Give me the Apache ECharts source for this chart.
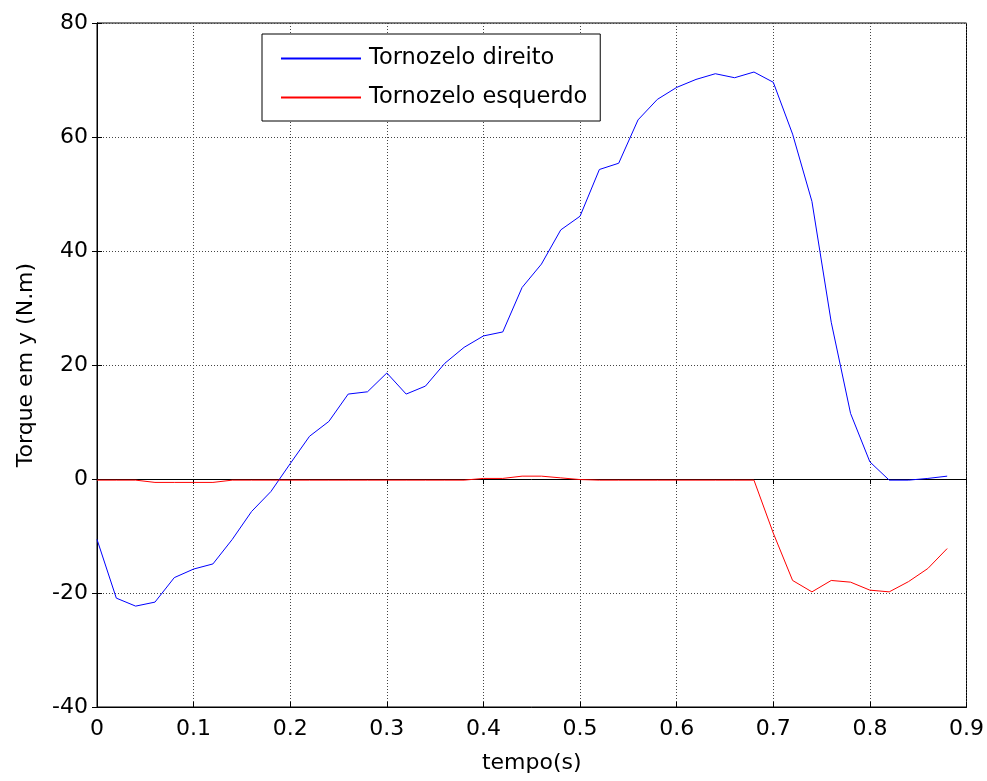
<!DOCTYPE html>
<html>
<head>
<meta charset="utf-8">
<script src="https://cdn.jsdelivr.net/npm/echarts@6/dist/echarts.min.js"></script>
<style>
  html, body { margin: 0; padding: 0; background: #fff; }
  #chart { width: 987px; height: 781px; }
</style>
</head>
<body>
<div id="chart"></div>
<script>
// tempo (s)
const tempo = [0, 0.02, 0.04, 0.06, 0.08, 0.10, 0.12, 0.14, 0.16, 0.18,
  0.20, 0.22, 0.24, 0.26, 0.28, 0.30, 0.32, 0.34, 0.36, 0.38,
  0.40, 0.42, 0.44, 0.46, 0.48, 0.50, 0.52, 0.54, 0.56, 0.58,
  0.60, 0.62, 0.64, 0.66, 0.68, 0.70, 0.72, 0.74, 0.76, 0.78,
  0.80, 0.82, 0.84, 0.86, 0.88];
const direito = [-10.6, -20.9, -22.3, -21.6, -17.3, -15.8, -14.9, -10.6, -5.7, -2.2,
  2.7, 7.5, 10.1, 14.9, 15.3, 18.6, 14.9, 16.3, 20.3, 23.1,
  25.1, 25.8, 33.6, 37.7, 43.7, 46.1, 54.3, 55.4, 63.0, 66.6,
  68.7, 70.1, 71.1, 70.4, 71.4, 69.6, 60.5, 48.7, 27.5, 11.5,
  3.0, -0.2, -0.2, 0.1, 0.5];
const esquerdo = [-0.2, -0.2, -0.2, -0.6, -0.6, -0.6, -0.6, -0.2, -0.2, -0.2,
  -0.2, -0.2, -0.2, -0.2, -0.2, -0.2, -0.2, -0.2, -0.2, -0.2,
  0.1, 0.1, 0.5, 0.5, 0.2, -0.1, -0.2, -0.2, -0.2, -0.2,
  -0.2, -0.2, -0.2, -0.2, -0.2, -9.5, -17.8, -19.8, -17.8, -18.1,
  -19.5, -19.8, -18.0, -15.7, -12.2];
const nomes = ["Tornozelo direito", "Tornozelo esquerdo"];

const font = "DejaVu Sans, sans-serif";
const pares = (ys) => tempo.map((t, i) => [t, ys[i]]);

const gridLine = { show: true, lineStyle: { color: "#444", type: [1, 2], width: 1 } };
const tick = { show: true, inside: true, length: 5, lineStyle: { color: "#000" } };

const chart = echarts.init(document.getElementById("chart"));
chart.setOption({
  animation: false,
  backgroundColor: "#fff",
  textStyle: { fontFamily: font },
  grid: {
    left: 97, right: 20, top: 23, bottom: 74,
    show: true, borderColor: "#000", borderWidth: 1
  },
  legend: {
    data: nomes,
    orient: "vertical",
    left: 262, top: 34,
    padding: [13, 13, 12, 18],
    itemGap: 16,
    itemWidth: 80, itemHeight: 14,
    itemStyle: { opacity: 0 },
    backgroundColor: "#fff",
    borderColor: "#000", borderWidth: 1, borderRadius: 0,
    textStyle: { fontFamily: font, fontSize: 22.5, color: "#000", padding: [0, 0, 0, 3] }
  },
  xAxis: [
    {
      type: "value", min: 0, max: 0.9, interval: 0.1,
      name: "tempo(s)", nameLocation: "middle", nameGap: 45,
      nameTextStyle: { fontFamily: font, fontSize: 22, color: "#000" },
      axisLine: { show: true, onZero: false, lineStyle: { color: "#000" } },
      axisTick: tick,
      axisLabel: { fontFamily: font, fontSize: 22, color: "#000", margin: 11,
        formatter: (v) => String(Math.round(v * 10) / 10) },
      splitLine: gridLine
    },
    {
      type: "value", min: 0, max: 0.9, interval: 0.1, position: "top",
      axisLine: { show: true, lineStyle: { color: "#000" } },
      axisTick: tick, axisLabel: { show: false }, splitLine: { show: false }
    }
  ],
  yAxis: [
    {
      type: "value", min: -40, max: 80, interval: 20,
      name: "Torque em y (N.m)", nameLocation: "middle", nameGap: 60,
      nameTextStyle: { fontFamily: font, fontSize: 22, color: "#000" },
      axisLine: { show: true, onZero: false, lineStyle: { color: "#000" } },
      axisTick: tick,
      axisLabel: { fontFamily: font, fontSize: 22, color: "#000", margin: 9 },
      splitLine: gridLine
    },
    {
      type: "value", min: -40, max: 80, interval: 20, position: "right",
      axisLine: { show: true, lineStyle: { color: "#000" } },
      axisTick: tick, axisLabel: { show: false }, splitLine: { show: false }
    }
  ],
  series: [
    {
      name: nomes[0], type: "line", data: pares(direito),
      symbol: "none", lineStyle: { color: "#0000ff", width: 1 }, itemStyle: { color: "#0000ff" }
    },
    {
      name: nomes[1], type: "line", data: pares(esquerdo),
      symbol: "none", lineStyle: { color: "#ff0000", width: 1 }, itemStyle: { color: "#ff0000" }
    }
  ]
});
</script>
</body>
</html>
